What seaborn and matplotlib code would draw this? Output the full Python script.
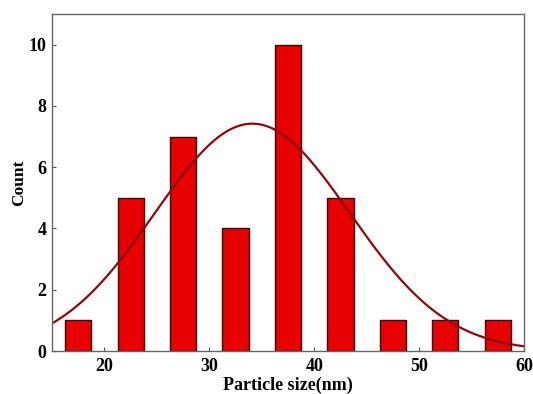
import numpy as np
import pandas as pd
import matplotlib
matplotlib.use("Agg")
import matplotlib.pyplot as plt
import seaborn as sns

# -------------------------------
# Data
# -------------------------------
bin_centers = [17.5, 22.5, 27.5, 32.5, 37.5, 42.5, 47.5, 52.5, 57.5]
counts = [1, 5, 7, 4, 10, 5, 1, 1, 1]
bin_edges = [15, 20, 25, 30, 35, 40, 45, 50, 55, 60]

# normal fit parameters
fit_mean = 34.1
fit_sigma = 9.3
fit_peak = 7.42

x_ticks = [20, 30, 40, 50, 60]
y_ticks = [0, 2, 4, 6, 8, 10]

sns.set_theme(style="ticks")
plt.rcParams["font.family"] = ["Liberation Serif", "DejaVu Serif"]
plt.rcParams["font.weight"] = "bold"
plt.rcParams["text.color"] = "black"
plt.rcParams["axes.labelcolor"] = "black"
plt.rcParams["xtick.labelcolor"] = "black"
plt.rcParams["ytick.labelcolor"] = "black"

df = pd.DataFrame({"size": bin_centers, "count": counts})

fig = plt.figure(figsize=(5.33, 3.94), dpi=100)
ax = fig.add_axes([0.0976, 0.1091, 0.8854, 0.8554])

sns.histplot(
    data=df,
    x="size",
    weights="count",
    bins=bin_edges,
    shrink=0.5,
    color="#e60000",
    alpha=1,
    edgecolor="#3a0000",
    linewidth=1.0,
    ax=ax,
)

xs = np.linspace(15, 60, 300)
fit_curve = fit_peak * np.exp(-((xs - fit_mean) ** 2) / (2 * fit_sigma**2))
sns.lineplot(x=xs, y=fit_curve, color="#8b0a0a", linewidth=1.6, ax=ax)

ax.set_xlim(15, 60)
ax.set_ylim(0, 11)
ax.set_xticks(x_ticks)
ax.set_yticks(y_ticks)
ax.tick_params(direction="in", length=3, width=0.8, color="#555555",
               labelsize=13, labelcolor="black")
ax.tick_params(axis="y", pad=4)
ax.tick_params(axis="x", pad=5)
for lab in ax.get_xticklabels() + ax.get_yticklabels():
    lab.set_fontweight("bold")
for sp in ax.spines.values():
    sp.set_visible(True)
    sp.set_color("#666666")
    sp.set_linewidth(1.0)

ax.set_xlabel("Particle size(nm)", fontsize=13, fontweight="bold", labelpad=1, color="black")
ax.set_ylabel("Count", fontsize=12.5, fontweight="bold", labelpad=1, color="black")

fig.savefig("out.png", dpi=100)
